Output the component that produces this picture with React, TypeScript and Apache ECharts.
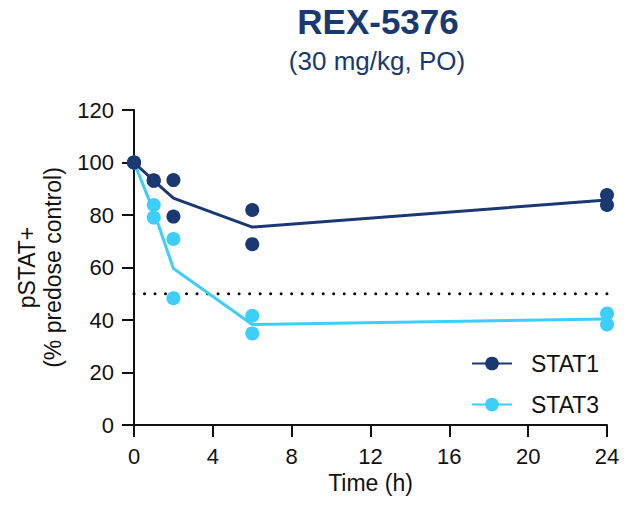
import React, { useEffect, useRef } from "react";
import * as echarts from "echarts";

const times = [0, 1, 2, 6, 24];
const stat1Mean = [100, 93.1, 86.4, 75.4, 85.7];
const stat3Mean = [100, 81.4, 59.6, 38.3, 40.4];
const stat1RepA = [100, 93.2, 93.3, 81.9, 87.6];
const stat1RepB = [100, 93.0, 79.4, 68.9, 83.8];
const stat3RepA = [100, 83.8, 70.9, 41.6, 42.5];
const stat3RepB = [100, 79.0, 48.3, 34.9, 38.3];
const thresholdX = [0, 24];
const thresholdY = 50;

const NAVY = "#1a3872";
const LIGHT = "#3dcefb";
const FONT = "'Liberation Sans', Arial, Helvetica, sans-serif";

const pairs = (xs: number[], ys: number[]) => xs.map((x, i) => [x, ys[i]]);

export default function App() {
  const ref = useRef<HTMLDivElement>(null);
  useEffect(() => {
    if (!ref.current) return;
    const chart = echarts.init(ref.current, undefined, { renderer: "svg" });
    const reps = (a: number[], b: number[]) => [...pairs(times, a), ...pairs(times, b)];
    chart.setOption({
      animation: false,
      textStyle: { fontFamily: FONT },
      graphic: [
        {
          type: "text",
          x: 378,
          y: 21,
          style: {
            text: "REX-5376",
            font: `bold 35px ${FONT}`,
            fill: NAVY,
            align: "center",
            verticalAlign: "middle",
          },
        },
        {
          type: "text",
          x: 377,
          y: 61,
          style: {
            text: "(30 mg/kg, PO)",
            font: `26px ${FONT}`,
            fill: NAVY,
            align: "center",
            verticalAlign: "middle",
          },
        },
      ],
      legend: {
        orient: "vertical",
        left: 466,
        top: 347,
        itemWidth: 40,
        itemHeight: 17,
        itemGap: 18,
        data: ["STAT1", "STAT3"],
        textStyle: { fontSize: 23, color: "#111", padding: [0, 0, 0, 14], fontFamily: FONT },
        selectedMode: false,
      },
      grid: { left: 134, top: 110, width: 473, height: 315, containLabel: false },
      xAxis: {
        type: "value",
        min: 0,
        max: 24,
        interval: 4,
        name: "Time (h)",
        nameLocation: "middle",
        nameGap: 46,
        nameTextStyle: { fontSize: 23, color: "#111", fontFamily: FONT },
        axisLine: { onZero: false, lineStyle: { color: "#111", width: 2 } },
        axisTick: { show: true, length: 12, lineStyle: { color: "#111", width: 2 } },
        axisLabel: { fontSize: 22, color: "#111", margin: 20, fontFamily: FONT },
        splitLine: { show: false },
      },
      yAxis: {
        type: "value",
        min: 0,
        max: 120,
        interval: 20,
        name: "pSTAT+\n(% predose control)",
        nameLocation: "middle",
        nameGap: 68,
        nameRotate: 90,
        nameTextStyle: { fontSize: 23, color: "#111", lineHeight: 26, fontFamily: FONT },
        axisLine: { show: true, lineStyle: { color: "#111", width: 2 } },
        axisTick: { show: true, length: 12, lineStyle: { color: "#111", width: 2 } },
        axisLabel: { fontSize: 22, color: "#111", margin: 20, fontFamily: FONT },
        splitLine: { show: false },
      },
      series: [
        {
          name: "threshold",
          type: "line",
          data: thresholdX.map((x) => [x, thresholdY]),
          symbol: "none",
          lineStyle: { color: "#000", width: 3, type: [0.01, 10.5], cap: "round" },
          silent: true,
          z: 1,
        },
        {
          name: "STAT3",
          type: "line",
          data: pairs(times, stat3Mean),
          symbol: "circle",
          showSymbol: false,
          symbolSize: 14,
          itemStyle: { color: LIGHT },
          lineStyle: { color: LIGHT, width: 3 },
          z: 2,
        },
        {
          name: "STAT3 reps",
          type: "scatter",
          data: reps(stat3RepA, stat3RepB),
          symbol: "circle",
          symbolSize: 14,
          itemStyle: { color: LIGHT, opacity: 1 },
          z: 3,
        },
        {
          name: "STAT1",
          type: "line",
          data: pairs(times, stat1Mean),
          symbol: "circle",
          showSymbol: false,
          symbolSize: 14,
          itemStyle: { color: NAVY },
          lineStyle: { color: NAVY, width: 3 },
          z: 4,
        },
        {
          name: "STAT1 reps",
          type: "scatter",
          data: reps(stat1RepA, stat1RepB),
          symbol: "circle",
          symbolSize: 14,
          itemStyle: { color: NAVY, opacity: 1 },
          z: 5,
        },
      ],
    });
    return () => chart.dispose();
  }, []);
  return (
    <div
      ref={ref}
      style={{ position: "fixed", left: 0, top: 0, width: 626, height: 510, background: "#fff" }}
    />
  );
}
